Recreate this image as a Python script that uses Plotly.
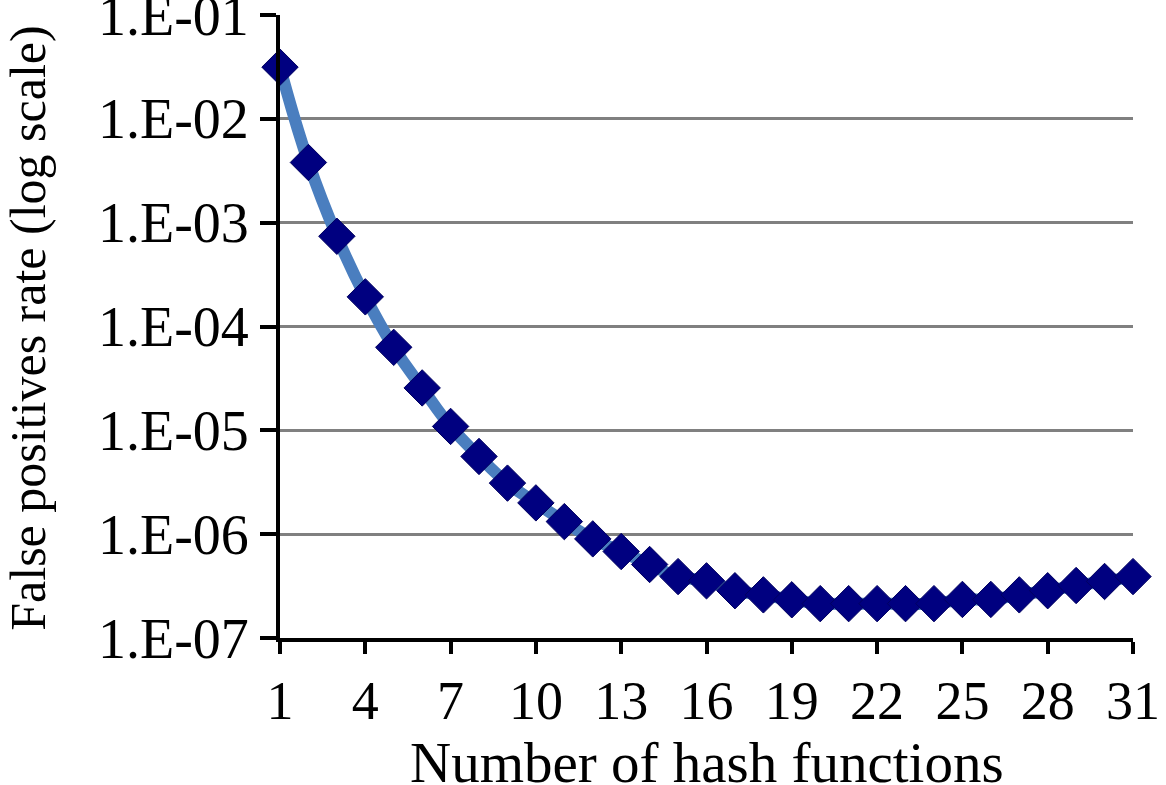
import plotly.graph_objects as go

# number of hash functions vs false positive rate
hash_funcs = list(range(1, 32))
fp_rate = [
    3.15e-2, 3.8e-3, 7.4e-4, 1.93e-4, 6.3e-5, 2.56e-5, 1.09e-5, 5.6e-6,
    3.1e-6, 2.0e-6, 1.32e-6, 9.0e-7, 6.8e-7, 5.1e-7, 3.9e-7, 3.55e-7,
    2.85e-7, 2.6e-7, 2.33e-7, 2.14e-7, 2.14e-7, 2.14e-7, 2.14e-7, 2.14e-7,
    2.35e-7, 2.35e-7, 2.6e-7, 2.85e-7, 3.2e-7, 3.5e-7, 3.9e-7,
]
y_tickvals = [1e-7, 1e-6, 1e-5, 1e-4, 1e-3, 1e-2, 1e-1]
y_ticktext = ["1.E-07", "1.E-06", "1.E-05", "1.E-04", "1.E-03", "1.E-02", "1.E-01"]
x_tickvals = list(range(1, 32, 3))

font_family = "Liberation Serif, Times New Roman, serif"

fig = go.Figure()
fig.add_trace(go.Scatter(
    x=hash_funcs,
    y=fp_rate,
    mode="lines",
    line=dict(color="#4a7ebf", width=12, shape="spline", smoothing=1.3),
    hoverinfo="skip",
    showlegend=False,
    cliponaxis=False,
))
fig.add_trace(go.Scatter(
    x=hash_funcs,
    y=fp_rate,
    mode="markers",
    marker=dict(symbol="diamond", size=28, color="#000080",
                line=dict(color="#000060", width=1)),
    showlegend=False,
    cliponaxis=False,
))

fig.update_layout(
    width=1166,
    height=785,
    margin=dict(l=280, r=33, t=15, b=147),
    paper_bgcolor="white",
    plot_bgcolor="white",
    font=dict(family=font_family, size=56, color="black"),
    xaxis=dict(
        range=[1, 31],
        automargin=False,
        tickmode="array",
        tickvals=x_tickvals,
        ticks="outside",
        ticklen=12,
        tickwidth=4,
        tickcolor="black",
        showline=True,
        linecolor="black",
        linewidth=4,
        showgrid=False,
        zeroline=False,
        tickfont=dict(size=54),
        ticklabeloverflow="allow",
    ),
    yaxis=dict(
        type="log",
        range=[-7.0005, -0.9995],
        automargin=False,
        tickmode="array",
        tickvals=y_tickvals,
        ticktext=y_ticktext,
        ticks="outside",
        ticklen=16,
        tickwidth=4,
        tickcolor="black",
        showline=True,
        linecolor="black",
        linewidth=4,
        showgrid=True,
        gridcolor="#808080",
        gridwidth=3,
        zeroline=False,
        tickfont=dict(size=56),
        ticklabeloverflow="allow",
    ),
    annotations=[
        dict(text="Number of hash functions", xref="paper", yref="paper",
             x=0.5, y=-0.2, xanchor="center", yanchor="middle",
             showarrow=False, font=dict(size=57)),
        dict(text="False positives rate (log scale)", xref="paper", yref="paper",
             x=-0.295, y=0.497, xanchor="center", yanchor="middle",
             textangle=-90, showarrow=False, font=dict(size=50)),
    ],
)

fig.write_html("out.html", config={"displayModeBar": False},
               post_script="document.body.style.margin='0';")
